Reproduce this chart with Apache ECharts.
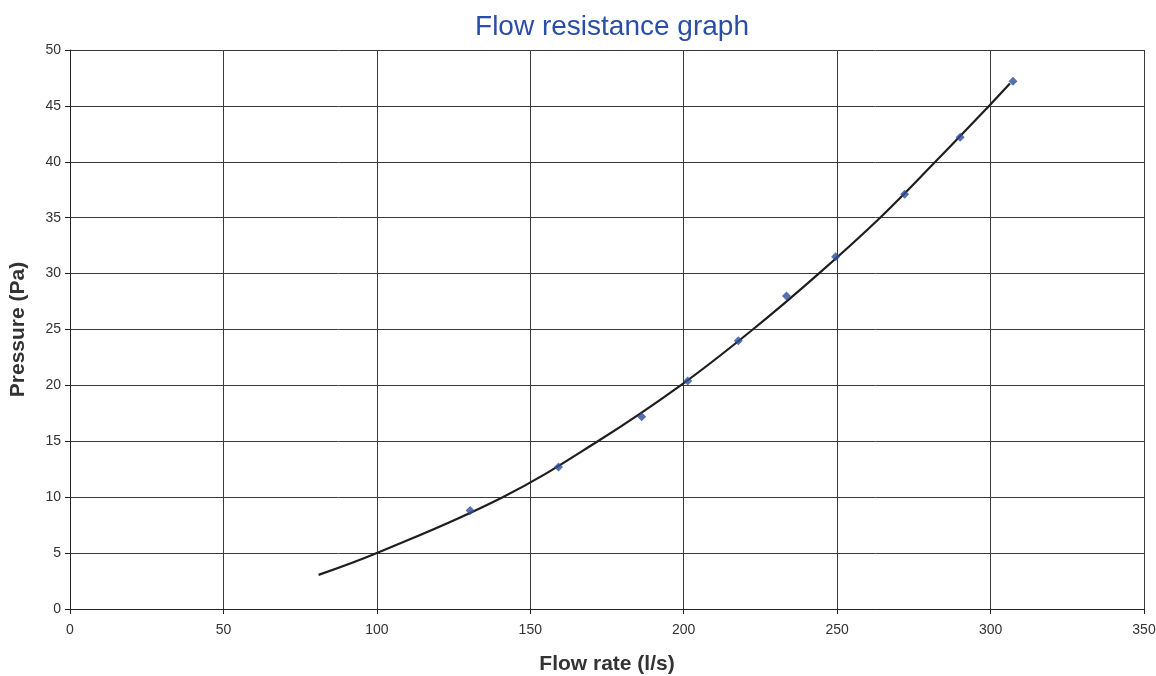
<!DOCTYPE html>
<html>
<head>
<meta charset="utf-8">
<script src="https://cdn.jsdelivr.net/npm/echarts@6/dist/echarts.min.js"></script>
<style>
html,body{margin:0;padding:0;background:#fff;}
#chart{width:1156px;height:676px;}
</style>
</head>
<body>
<div id="chart"></div>
<script>
// Measured data points (flow rate l/s, pressure Pa)
var flowRate = [130.4, 159.2, 186.3, 201.3, 217.8, 233.5, 249.5, 272.0, 290.1, 307.3];
var pressure = [8.8, 12.7, 17.2, 20.4, 24.0, 28.0, 31.5, 37.1, 42.2, 47.2];
// Points read along the drawn trendline
var trendFlow = [81, 100, 141, 172, 199, 222.5, 244, 264, 282, 299.5, 306.3];
var trendPressure = [3.05, 5.0, 10, 15, 20, 25, 30, 35, 40, 45, 47.0];
var xTicks = [0, 50, 100, 150, 200, 250, 300, 350];
var yTicks = [0, 5, 10, 15, 20, 25, 30, 35, 40, 45, 50];

var pts = flowRate.map(function(v, i){ return [v, pressure[i]]; });
var trend = trendFlow.map(function(v, i){ return [v, trendPressure[i]]; });

var chart = echarts.init(document.getElementById('chart'), null, {renderer: 'canvas'});
var font = 'Liberation Sans, Arial, sans-serif';
chart.setOption({
  animation: false,
  backgroundColor: '#ffffff',
  title: {
    text: 'Flow resistance graph',
    left: 607, top: 8, textAlign: 'center',
    textStyle: {fontFamily: font, fontSize: 28, fontWeight: 'normal', color: '#2a4ea6'}
  },
  grid: {left: 70, right: 12, top: 50, bottom: 67, containLabel: false, outerBoundsMode: 'none'},
  xAxis: {
    type: 'value', min: xTicks[0], max: xTicks[xTicks.length-1], interval: 50,
    name: 'Flow rate (l/s)', nameLocation: 'middle', nameGap: 45,
    nameTextStyle: {fontFamily: font, fontSize: 21, fontWeight: 'bold', color: '#333'},
    axisLine: {show: true, lineStyle: {color: '#222', width: 1}},
    axisTick: {show: true, length: 5, lineStyle: {color: '#222'}},
    axisLabel: {fontFamily: font, fontSize: 14, color: '#333', margin: 14},
    splitLine: {show: true, lineStyle: {color: '#3a3a3a', width: 1}}
  },
  yAxis: {
    type: 'value', min: yTicks[0], max: yTicks[yTicks.length-1], interval: 5,
    name: 'Pressure (Pa)', nameLocation: 'middle', nameGap: 41,
    nameTextStyle: {fontFamily: font, fontSize: 21, fontWeight: 'bold', color: '#333'},
    axisLine: {show: true, lineStyle: {color: '#222', width: 1}},
    axisTick: {show: true, length: 5, lineStyle: {color: '#222'}},
    axisLabel: {fontFamily: font, fontSize: 14, color: '#333', margin: 9},
    splitLine: {show: true, lineStyle: {color: '#3a3a3a', width: 1}}
  },
  series: [
    {
      type: 'line', data: trend, smooth: 0.4, showSymbol: false, symbol: 'none',
      lineStyle: {color: '#1e1e1e', width: 2.2}, z: 2
    },
    {
      type: 'scatter', data: pts, symbol: 'diamond', symbolSize: 9,
      itemStyle: {color: '#2b4f9a'}, z: 3
    }
  ]
});
</script>
</body>
</html>
